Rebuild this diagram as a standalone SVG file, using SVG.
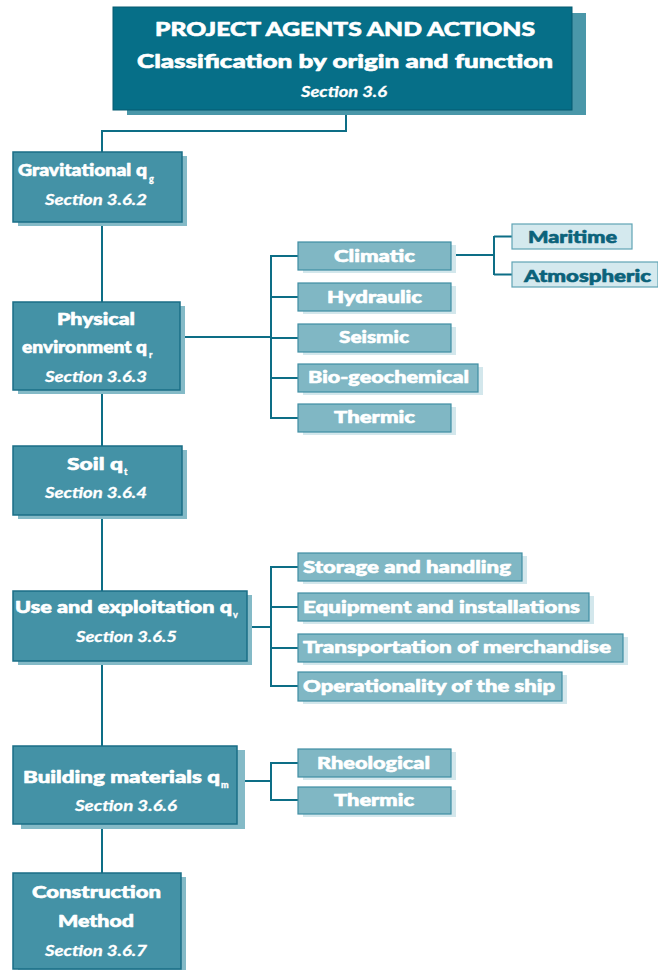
<svg xmlns="http://www.w3.org/2000/svg" width="658" height="970" viewBox="0 0 658 970">
  <style>
    .bg { fill: #ffffff; }
    .line { fill: none; stroke: #0d6e86; stroke-width: 2; }
    .title-box { fill: #066f88; stroke: #045b70; stroke-width: 1; }
    .title-shadow { fill: #4a97a9; }
    .main-box { fill: #4492a6; stroke: #1a6e86; stroke-width: 1.5; }
    .main-shadow { fill: #84bac7; }
    .sub-box { fill: #80b7c4; stroke: #3f8ea3; stroke-width: 1.2; }
    .sub-shadow { fill: #d3e7ec; }
    .leaf-box { fill: #d4e9ee; stroke: #5fa4b5; stroke-width: 1.2; }
    .t { font-family: Lato, "Open Sans", "DejaVu Sans", sans-serif; font-weight: 900; fill: #ffffff; stroke: #ffffff; stroke-width: 0.6; stroke-linejoin: round; }
    .title { font-size: 19px; text-anchor: middle; }
    .head { font-size: 17px; text-anchor: middle; }
    .sec { font-size: 16px; font-style: italic; font-weight: 700; text-anchor: middle; stroke-width: 0.3; }
    .sub { font-size: 9px; stroke-width: 0.3; }
    .lbl { font-size: 17px; text-anchor: middle; }
    .lbl-l { font-size: 17px; }
    .dark { fill: #0b627a; stroke: #0b627a; }
  </style>

  <rect class="bg" x="0" y="0" width="658" height="970"/>

  <!-- connectors -->
  <g id="connectors">
    <path class="line" d="M346,110 V131 H102 V873"/>
    <!-- physical environment branches -->
    <path class="line" d="M180,337 H271"/>
    <path class="line" d="M271,255 V419"/>
    <path class="line" d="M271,256 H298 M271,297 H298 M271,338 H298 M271,378 H298 M271,418 H298"/>
    <!-- climatic branches -->
    <path class="line" d="M451,255 H494 M494,236 V275 M494,236.5 H512 M494,274.5 H512"/>
    <!-- use and exploitation branches -->
    <path class="line" d="M247,627 H271"/>
    <path class="line" d="M271,566 V687"/>
    <path class="line" d="M271,567 H298 M271,607 H298 M271,648 H298 M271,686 H298"/>
    <!-- building materials branches -->
    <path class="line" d="M237,781 H271"/>
    <path class="line" d="M271,762 V801"/>
    <path class="line" d="M271,763 H298 M271,800 H298"/>
  </g>

  <!-- title -->
  <g id="title">
    <rect class="title-shadow" x="127" y="13" width="459" height="102"/>
    <rect class="title-box" x="113" y="7" width="459" height="103"/>
    <text class="t title" x="345" y="36" textLength="380" lengthAdjust="spacingAndGlyphs">PROJECT AGENTS AND ACTIONS</text>
    <text class="t title" x="345" y="68" textLength="416" lengthAdjust="spacingAndGlyphs">Classification by origin and function</text>
    <text class="t sec" x="344" y="97" textLength="86" lengthAdjust="spacingAndGlyphs">Section 3.6</text>
  </g>

  <!-- main categories -->
  <g id="gravitational">
    <rect class="main-shadow" x="18" y="156" width="169" height="70"/>
    <rect class="main-box" x="13" y="152" width="169" height="70"/>
    <text class="t head" x="82.5" y="176" textLength="129" lengthAdjust="spacingAndGlyphs">Gravitational q</text>
    <text class="t sub" x="149" y="182">g</text>
    <text class="t sec" x="96" y="205" textLength="102" lengthAdjust="spacingAndGlyphs">Section 3.6.2</text>
  </g>

  <g id="physical">
    <rect class="main-shadow" x="18" y="306" width="167" height="88"/>
    <rect class="main-box" x="13" y="302" width="167" height="88"/>
    <text class="t head" x="96" y="325" textLength="78" lengthAdjust="spacingAndGlyphs">Physical</text>
    <text class="t head" x="84.5" y="353" textLength="125" lengthAdjust="spacingAndGlyphs">environment q</text>
    <text class="t sub" x="149" y="358">r</text>
    <text class="t sec" x="96" y="382" textLength="102" lengthAdjust="spacingAndGlyphs">Section 3.6.3</text>
  </g>

  <g id="soil">
    <rect class="main-shadow" x="18" y="450" width="169" height="69"/>
    <rect class="main-box" x="13" y="446" width="169" height="69"/>
    <text class="t head" x="95" y="470" textLength="56" lengthAdjust="spacingAndGlyphs">Soil q</text>
    <text class="t sub" x="124" y="475">t</text>
    <text class="t sec" x="96" y="498" textLength="102" lengthAdjust="spacingAndGlyphs">Section 3.6.4</text>
  </g>

  <g id="use">
    <rect class="main-shadow" x="18" y="595" width="234" height="70"/>
    <rect class="main-box" x="13" y="591" width="234" height="70"/>
    <text class="t head" x="123.5" y="613" textLength="217" lengthAdjust="spacingAndGlyphs">Use and exploitation q</text>
    <text class="t sub" x="233" y="618">v</text>
    <text class="t sec" x="126.5" y="642" textLength="101" lengthAdjust="spacingAndGlyphs">Section 3.6.5</text>
  </g>

  <g id="building">
    <rect class="main-shadow" x="21" y="750" width="224" height="79"/>
    <rect class="main-box" x="13" y="746" width="224" height="78"/>
    <text class="t head" x="121.5" y="783" textLength="197" lengthAdjust="spacingAndGlyphs">Building materials q</text>
    <text class="t sub" x="221" y="788">m</text>
    <text class="t sec" x="126" y="811" textLength="102" lengthAdjust="spacingAndGlyphs">Section 3.6.6</text>
  </g>

  <g id="construction">
    <rect class="main-shadow" x="18" y="877" width="168" height="93"/>
    <rect class="main-box" x="13" y="873" width="168" height="96"/>
    <text class="t head" x="96.5" y="898" textLength="129" lengthAdjust="spacingAndGlyphs">Construction</text>
    <text class="t head" x="96" y="927" textLength="76" lengthAdjust="spacingAndGlyphs">Method</text>
    <text class="t sec" x="96" y="956" textLength="102" lengthAdjust="spacingAndGlyphs">Section 3.6.7</text>
  </g>

  <!-- physical environment subtypes -->
  <g id="climatic">
    <rect class="sub-shadow" x="303" y="245" width="153" height="28"/>
    <rect class="sub-box" x="298" y="242" width="153" height="28"/>
    <text class="t lbl" x="374.5" y="262" textLength="81" lengthAdjust="spacingAndGlyphs">Climatic</text>
  </g>
  <g id="hydraulic">
    <rect class="sub-shadow" x="303" y="286" width="153" height="28"/>
    <rect class="sub-box" x="298" y="283" width="153" height="28"/>
    <text class="t lbl" x="374.5" y="303" textLength="95" lengthAdjust="spacingAndGlyphs">Hydraulic</text>
  </g>
  <g id="seismic">
    <rect class="sub-shadow" x="303" y="327" width="153" height="28"/>
    <rect class="sub-box" x="298" y="324" width="153" height="28"/>
    <text class="t lbl" x="374" y="343" textLength="70" lengthAdjust="spacingAndGlyphs">Seismic</text>
  </g>
  <g id="biogeochemical">
    <rect class="sub-shadow" x="303" y="367" width="180" height="28"/>
    <rect class="sub-box" x="298" y="364" width="180" height="28"/>
    <text class="t lbl" x="388.5" y="383" textLength="161" lengthAdjust="spacingAndGlyphs">Bio-geochemical</text>
  </g>
  <g id="thermic-physical">
    <rect class="sub-shadow" x="303" y="407" width="153" height="28"/>
    <rect class="sub-box" x="298" y="404" width="153" height="28"/>
    <text class="t lbl" x="374.5" y="423" textLength="81" lengthAdjust="spacingAndGlyphs">Thermic</text>
  </g>

  <!-- climatic subtypes -->
  <g id="maritime">
    <rect class="leaf-box" x="512" y="224" width="120" height="25"/>
    <text class="t lbl dark" x="572.5" y="243" textLength="89" lengthAdjust="spacingAndGlyphs">Maritime</text>
  </g>
  <g id="atmospheric">
    <rect class="leaf-box" x="512" y="262" width="146" height="25"/>
    <text class="t lbl dark" x="587.5" y="282" textLength="127" lengthAdjust="spacingAndGlyphs">Atmospheric</text>
  </g>

  <!-- use and exploitation subtypes -->
  <g id="storage">
    <rect class="sub-shadow" x="303" y="556" width="224" height="28"/>
    <rect class="sub-box" x="298" y="553" width="224" height="28"/>
    <text class="t lbl-l" x="303" y="573" textLength="208" lengthAdjust="spacingAndGlyphs">Storage and handling</text>
  </g>
  <g id="equipment">
    <rect class="sub-shadow" x="303" y="596" width="291" height="28"/>
    <rect class="sub-box" x="298" y="593" width="291" height="28"/>
    <text class="t lbl-l" x="303" y="613" textLength="277" lengthAdjust="spacingAndGlyphs">Equipment and installations</text>
  </g>
  <g id="transportation">
    <rect class="sub-shadow" x="303" y="637" width="325" height="28"/>
    <rect class="sub-box" x="298" y="634" width="325" height="28"/>
    <text class="t lbl-l" x="303" y="653" textLength="308" lengthAdjust="spacingAndGlyphs">Transportation of merchandise</text>
  </g>
  <g id="operationality">
    <rect class="sub-shadow" x="303" y="675" width="264" height="29"/>
    <rect class="sub-box" x="298" y="672" width="264" height="29"/>
    <text class="t lbl-l" x="303" y="692" textLength="252" lengthAdjust="spacingAndGlyphs">Operationality of the ship</text>
  </g>

  <!-- building materials subtypes -->
  <g id="rheological">
    <rect class="sub-shadow" x="303" y="752" width="153" height="28"/>
    <rect class="sub-box" x="298" y="749" width="153" height="28"/>
    <text class="t lbl" x="373.5" y="769" textLength="113" lengthAdjust="spacingAndGlyphs">Rheological</text>
  </g>
  <g id="thermic-materials">
    <rect class="sub-shadow" x="303" y="790" width="153" height="27"/>
    <rect class="sub-box" x="298" y="787" width="153" height="27"/>
    <text class="t lbl" x="374" y="806" textLength="80" lengthAdjust="spacingAndGlyphs">Thermic</text>
  </g>
</svg>
